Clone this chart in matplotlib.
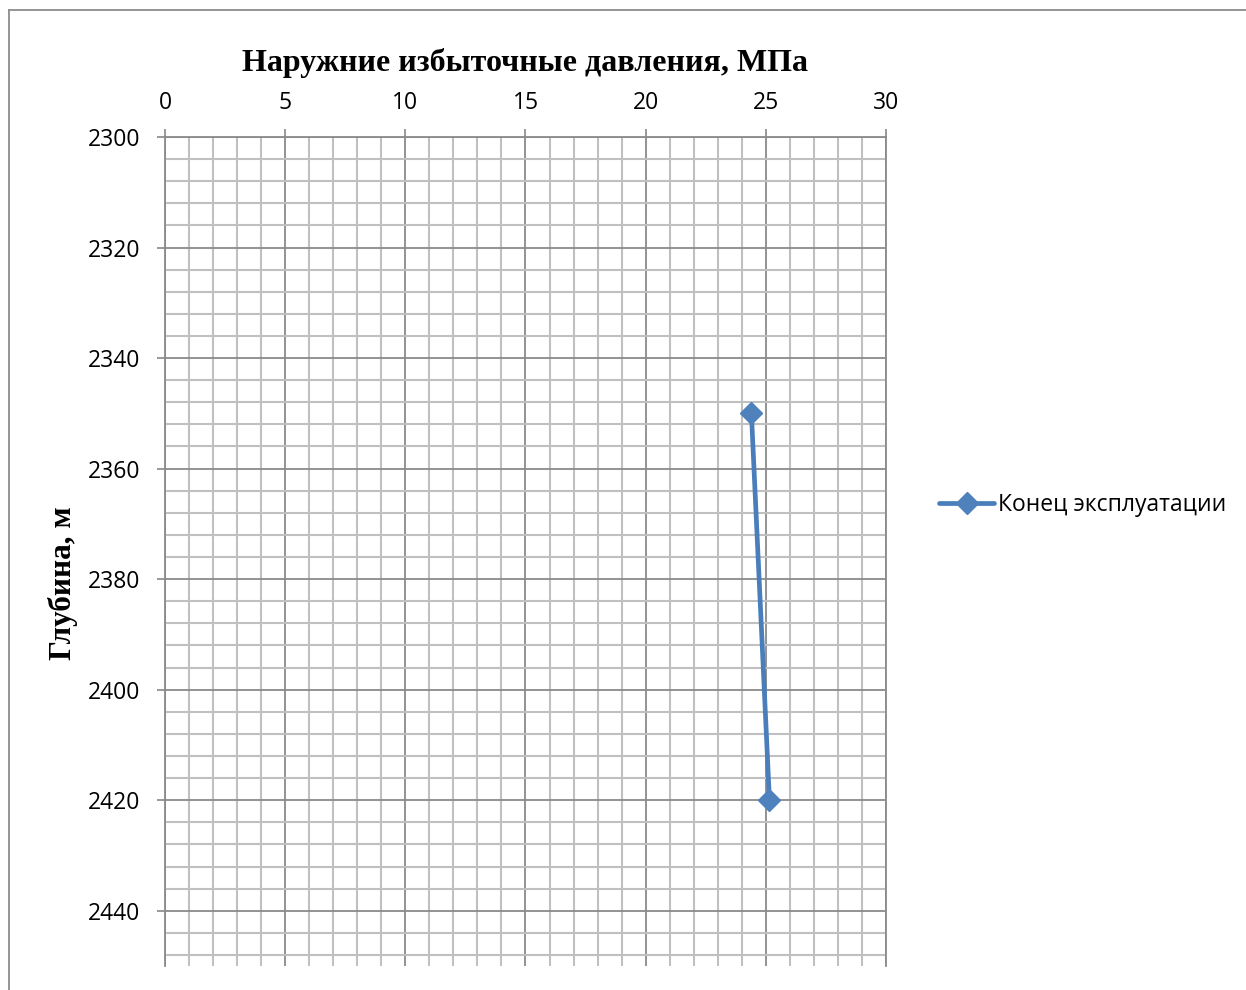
import matplotlib
matplotlib.use("Agg")
import matplotlib.pyplot as plt
from matplotlib.lines import Line2D
from matplotlib.ticker import MultipleLocator

# Data: external excess pressure vs depth
pressure_mpa = [24.4, 25.15]
depth_m = [2350, 2420]
series_name = "Конец эксплуатации"

title_text = "Наружние избыточные давления, МПа"
ylabel_text = "Глубина, м"

W, H = 1246, 990
fig = plt.figure(figsize=(W / 100, H / 100), dpi=100)
fig.patch.set_facecolor("white")

# axes placement in pixels (left, top, right, bottom)
L, T, R, B = 165, 137, 886, 966
ax = fig.add_axes([L / W, 1 - B / H, (R - L) / W, (B - T) / H])

sans = ["Open Sans", "DejaVu Sans"]
serif_bold = dict(family=["Liberation Serif", "DejaVu Serif"], weight="bold")
tick_size = 16.5

line, = ax.plot(pressure_mpa, depth_m, color="#4A7EBB", linewidth=3.4,
                marker="D", markersize=11, markerfacecolor="#4F81BD",
                markeredgecolor="#4F81BD", solid_capstyle="round",
                zorder=5, clip_on=False)

ax.set_xlim(0, 30)
ax.set_ylim(2450, 2300)

ax.xaxis.set_major_locator(MultipleLocator(5))
ax.xaxis.set_minor_locator(MultipleLocator(1))
ax.yaxis.set_major_locator(MultipleLocator(20))
ax.yaxis.set_minor_locator(MultipleLocator(4))

ax.xaxis.tick_top()
ax.tick_params(axis="x", which="major", direction="out", length=6, width=1.2,
               color="#888888", pad=9.5, labelsize=tick_size, top=True, bottom=False)
ax.tick_params(axis="y", which="major", direction="out", length=6, width=1.2,
               color="#888888", pad=12, labelsize=tick_size)
ax.tick_params(which="minor", length=0)
for lab in ax.get_xticklabels() + ax.get_yticklabels():
    lab.set_fontfamily(sans)

ax.grid(which="minor", color="#C0C0C0", linewidth=1.5)
ax.grid(which="major", color="#8A8A8A", linewidth=1.3)
ax.set_axisbelow(True)

ax.spines["bottom"].set_visible(False)
for side in ("top", "left", "right"):
    ax.spines[side].set_color("#8A8A8A")
    ax.spines[side].set_linewidth(1.3)

fig.text((L + R) / 2 / W, 1 - 63 / H, title_text, ha="center", va="center",
         fontsize=23, **serif_bold)
fig.text(63 / W, 1 - 583 / H, ylabel_text, ha="center", va="center",
         rotation=90, fontsize=22.5, **serif_bold)

leg = fig.legend([line], [series_name], loc="center left",
                 bbox_to_anchor=(928 / W, 1 - 505 / H), frameon=False,
                 handlelength=2.4, handletextpad=0.15, borderpad=0,
                 prop=dict(family=sans, size=16.5))

# outer chart frame (top and left edges)
fig.add_artist(Line2D([9 / W, 1.0], [1 - 10 / H, 1 - 10 / H],
                      transform=fig.transFigure, color="#8C8C8C", linewidth=1.3))
fig.add_artist(Line2D([9 / W, 9 / W], [0.0, 1 - 10 / H],
                      transform=fig.transFigure, color="#8C8C8C", linewidth=1.3))

fig.savefig("out.png", dpi=100, facecolor="white")
